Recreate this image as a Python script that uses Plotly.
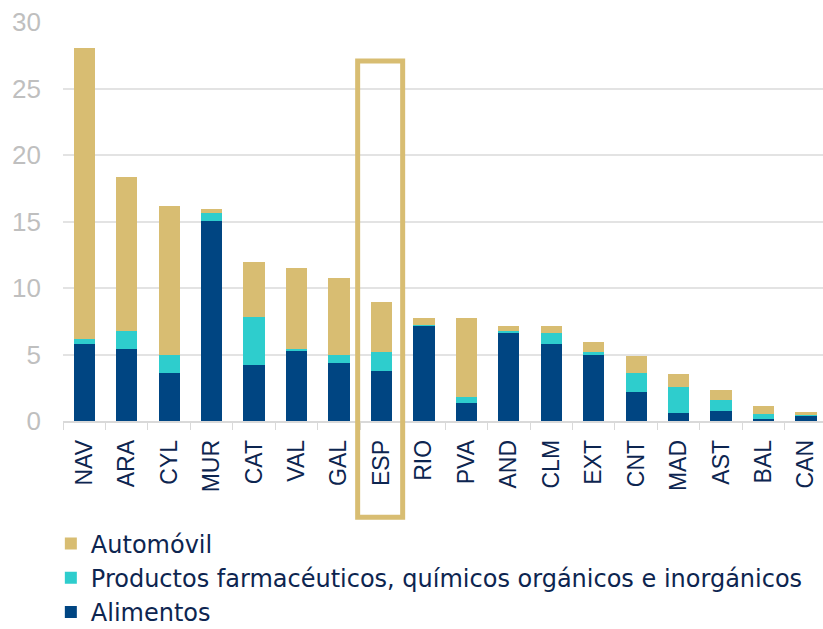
import plotly.graph_objects as go

categories = ["NAV", "ARA", "CYL", "MUR", "CAT", "VAL", "GAL", "ESP", "RIO", "PVA",
              "AND", "CLM", "EXT", "CNT", "MAD", "AST", "BAL", "CAN"]
alimentos = [5.82, 5.39, 3.59, 15.07, 4.19, 5.24, 4.39, 3.79, 7.20, 1.35,
             6.62, 5.82, 4.99, 2.18, 0.58, 0.75, 0.15, 0.38]
farma = [0.35, 1.38, 1.38, 0.60, 3.61, 0.18, 0.58, 1.40, 0.05, 0.43,
         0.15, 0.78, 0.20, 1.41, 1.98, 0.83, 0.40, 0.05]
automovil = [21.85, 11.61, 11.21, 0.30, 4.14, 6.12, 5.79, 3.74, 0.53, 5.95,
             0.35, 0.52, 0.73, 1.33, 0.95, 0.73, 0.55, 0.27]
y_ticks = [0, 5, 10, 15, 20, 25, 30]
highlight = "ESP"

NAVY = "#004582"
CYAN = "#2ECDCD"
GOLD = "#D8BD72"
TEXT = "#0D2550"

fig = go.Figure()
fig.add_trace(go.Bar(x=categories, y=alimentos, name="Alimentos",
                     marker=dict(color=NAVY, line=dict(width=0))))
fig.add_trace(go.Bar(x=categories, y=farma,
                     name="Productos farmacéuticos, químicos orgánicos e inorgánicos",
                     marker=dict(color=CYAN, line=dict(width=0))))
fig.add_trace(go.Bar(x=categories, y=automovil, name="Automóvil",
                     marker=dict(color=GOLD, line=dict(width=0))))

x_lo, x_hi = -0.5, 17.4
span = x_hi - x_lo
idx = categories.index(highlight)
fig.add_shape(type="rect", xref="paper", yref="paper",
              x0=(idx - 0.56 - x_lo) / span, x1=(idx + 0.5 - x_lo) / span,
              y0=-0.241, y1=0.902,
              line=dict(color=GOLD, width=5), fillcolor="rgba(0,0,0,0)")

fig.update_layout(
    barmode="stack",
    bargap=0.5,
    width=823, height=629,
    margin=dict(l=63, r=0, t=22, b=208, autoexpand=False),
    plot_bgcolor="white", paper_bgcolor="white",
    font=dict(family="Liberation Sans, Arial, sans-serif", color=TEXT),
    showlegend=True,
    legend=dict(orientation="v", traceorder="reversed",
                x=-0.016, xanchor="left", y=-0.535, yanchor="bottom",
                font=dict(size=24, color=TEXT, family="DejaVu Sans, sans-serif"),
                itemwidth=30, tracegroupgap=0, bgcolor="rgba(0,0,0,0)"),
)
fig.update_xaxes(range=[x_lo, x_hi], tickangle=-90, automargin=False,
                 tickfont=dict(size=23, color=TEXT),
                 showline=True, linecolor="#D9D9D9", linewidth=1.5,
                 ticks="outside", tickson="boundaries", ticklen=7,
                 tickcolor="#D9D9D9", showgrid=False, ticklabelstandoff=8)
fig.update_yaxes(range=[0, 30], tickvals=y_ticks, automargin=False,
                 tickfont=dict(size=26, color="#BFBFBF"),
                 gridcolor="#E3E3E3", gridwidth=1.5, zeroline=False,
                 showline=False, ticks="", ticklabelstandoff=21)

fig.write_html("out.html", config={"displayModeBar": False},
               post_script="document.body.style.margin='0';document.body.style.overflow='hidden';")
